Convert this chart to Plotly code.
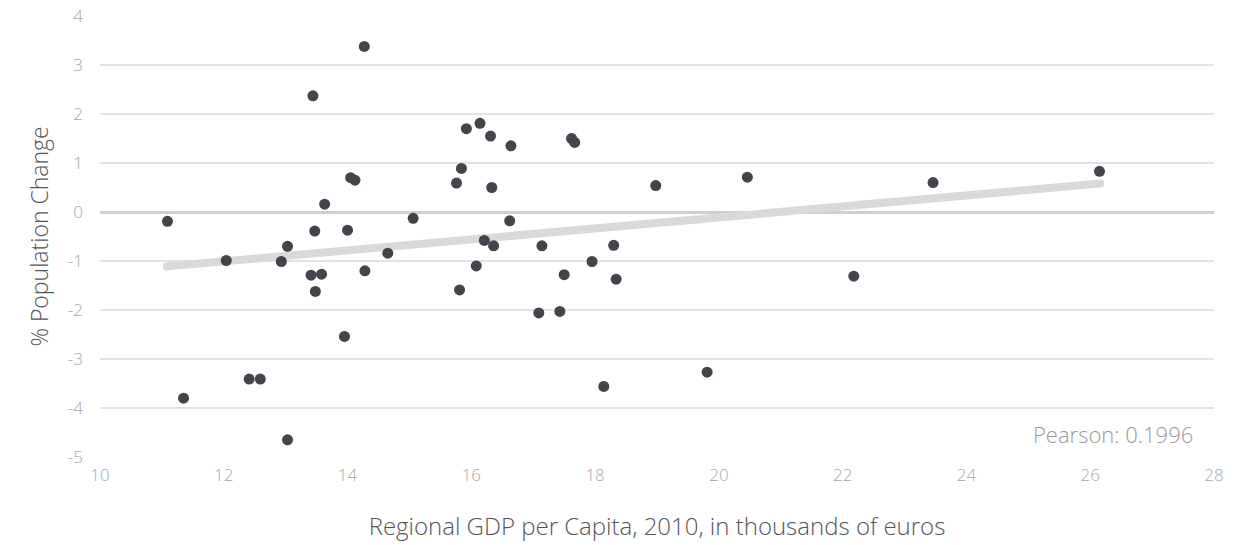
import plotly.graph_objects as go

gdp_per_capita = [14.27, 13.44, 14.05, 14.12, 13.63, 11.09, 13.47, 14.00, 15.06, 13.03,
                  15.92, 16.14, 16.31, 16.64, 17.62, 17.67, 15.84, 15.76, 16.33, 18.98,
                  20.46, 16.62, 16.21, 16.36, 17.14, 18.30, 12.04, 12.93, 14.65, 13.41,
                  13.58, 13.48, 14.28, 13.95, 12.41, 12.59, 11.35, 13.03, 16.08, 15.81,
                  17.95, 17.50, 18.34, 17.09, 17.43, 18.14, 19.81, 23.46, 26.15, 22.18]
pop_change = [3.38, 2.37, 0.70, 0.65, 0.16, -0.19, -0.39, -0.37, -0.13, -0.70,
              1.70, 1.81, 1.55, 1.35, 1.50, 1.42, 0.89, 0.59, 0.50, 0.54,
              0.71, -0.18, -0.58, -0.69, -0.69, -0.68, -0.99, -1.01, -0.84, -1.29,
              -1.27, -1.62, -1.20, -2.54, -3.41, -3.41, -3.80, -4.65, -1.10, -1.59,
              -1.01, -1.28, -1.37, -2.06, -2.03, -3.56, -3.27, 0.60, 0.83, -1.31]

trend_x = [11.08, 26.16]
trend_y = [-1.11, 0.58]

x_ticks = [10, 12, 14, 16, 18, 20, 22, 24, 26, 28]
y_ticks = [-5, -4, -3, -2, -1, 0, 1, 2, 3, 4]
y_tick_labels = ["-5", "-4", "-3", "-2", "-1", "0", "1", "2", "3", "4"]
pearson_label = "Pearson: 0.1996"

FONT = "Open Sans"

fig = go.Figure()
fig.add_trace(go.Scatter(
    x=trend_x, y=trend_y, mode="lines+markers",
    line=dict(color="#d9d9d9", width=8),
    marker=dict(color="#d9d9d9", size=8),
    hoverinfo="skip", showlegend=False,
))
fig.add_trace(go.Scatter(
    x=gdp_per_capita, y=pop_change, mode="markers",
    marker=dict(color="#43444c", size=11, line=dict(width=0)),
    showlegend=False,
))

fig.add_annotation(
    x=1, y=0, xref="paper", yref="paper", xanchor="right", yanchor="bottom",
    xshift=-19, yshift=6,
    text=pearson_label, showarrow=False,
    font=dict(family=FONT, size=22, color="#9a9a9a", weight=300),
)

fig.update_xaxes(
    range=[10, 28], tickvals=x_ticks, showgrid=False, zeroline=False,
    showline=False, ticks="", automargin=False,
    tickfont=dict(family=FONT, size=17, color="#a6a6a6", weight=300),
    ticklabelstandoff=6,
    title=dict(text="Regional GDP per Capita, 2010, in thousands of euros",
               font=dict(family=FONT, size=24, color="#555555", weight=300),
               standoff=33),
)
fig.update_yaxes(
    range=[-5, 4], tickvals=y_ticks, ticktext=y_tick_labels,
    showgrid=True, gridcolor="#e3e3e3", gridwidth=1.5,
    zeroline=True, zerolinecolor="#cfcfcf", zerolinewidth=3,
    showline=False, ticks="", automargin=False,
    tickfont=dict(family=FONT, size=17, color="#a6a6a6", weight=300),
    ticklabelstandoff=16,
    title=dict(text="% Population Change",
               font=dict(family=FONT, size=23, color="#555555", weight=300),
               standoff=12),
)

fig.update_layout(
    width=1233, height=545,
    margin=dict(l=100, r=19, t=16, b=88),
    plot_bgcolor="white", paper_bgcolor="white",
    font=dict(family=FONT),
)

fig.write_html("out.html", config={"displayModeBar": False},
               post_script="document.body.style.margin='0';")
